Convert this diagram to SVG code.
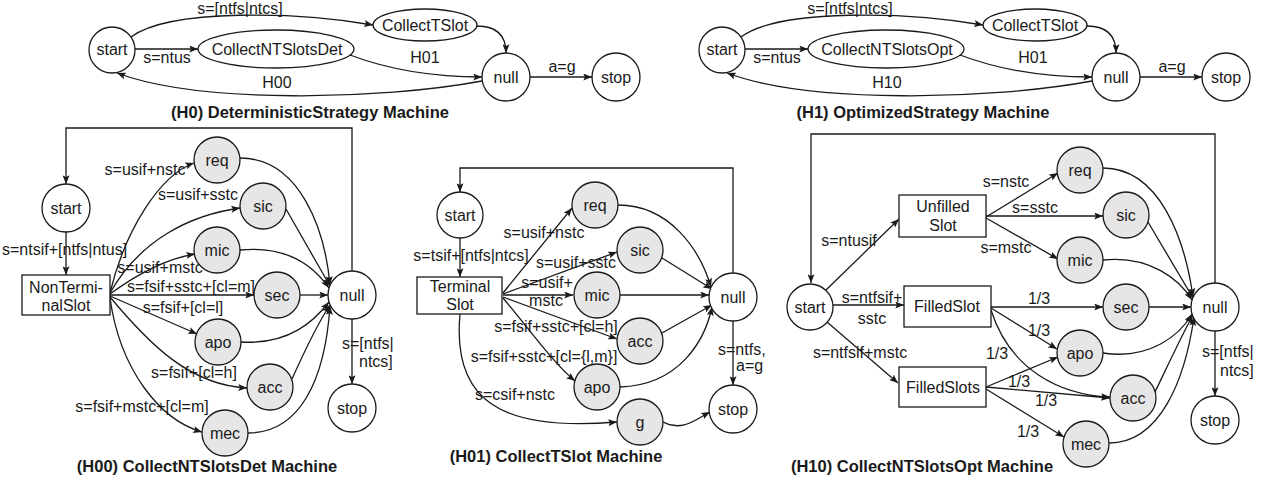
<svg xmlns="http://www.w3.org/2000/svg" width="1266" height="482" viewBox="0 0 1266 482">
<style>
text{font-family:"Liberation Sans",Arial,sans-serif;font-size:16px;fill:#1a1a1a}
.m{text-anchor:middle}
.t{font-weight:bold;font-size:16.5px;text-anchor:middle}
.e{fill:none;stroke:#1a1a1a;stroke-width:1.3;marker-end:url(#ah)}
.n{fill:none;stroke:#1a1a1a;stroke-width:1.3}
.w{fill:#fff;stroke:#1a1a1a;stroke-width:1.3}
.g{fill:#e6e6e6;stroke:#1a1a1a;stroke-width:1.3}
</style>
<defs>
<marker id="ah" viewBox="0 0 10 8" refX="10" refY="4" markerWidth="10" markerHeight="7" markerUnits="userSpaceOnUse" orient="auto"><path d="M0,0 L10,4 L0,8 L2,4 z" fill="#1a1a1a"/></marker>
</defs>
<rect width="1266" height="482" fill="#fff"/>

<!-- H0 -->
<g id="H0">
<g id="connectors-h0">
<path class="e" d="M131,37 C170,8 300,12 373,25"/>
<path class="e" d="M135,49 L198,49"/>
<path class="e" d="M350,55 C395,72 440,77 482,77"/>
<path class="e" d="M477,26 C498,26 506,36 506,53"/>
<path class="e" d="M482,81 C380,100 200,104 117,73"/>
<path class="e" d="M530,77 L592,77"/>
<text class="m" x="240" y="14">s=[ntfs|ntcs]</text>
<text class="m" x="167" y="63">s=ntus</text>
<text class="m" x="425" y="63">H01</text>
<text class="m" x="277" y="88">H00</text>
<text class="m" x="562" y="72">a=g</text>
</g>
<g id="h0-start"><circle class="w" cx="112" cy="50" r="23"/><text class="m" x="112" y="55">start</text></g>
<g id="h0-collectntslotsdet"><ellipse class="w" cx="276" cy="49" rx="78" ry="19"/><text class="m" x="277" y="55">CollectNTSlotsDet</text></g>
<g id="h0-collecttslot"><ellipse class="w" cx="425" cy="25" rx="52" ry="16"/><text class="m" x="425" y="31">CollectTSlot</text></g>
<g id="h0-null"><circle class="w" cx="506" cy="77" r="24"/><text class="m" x="506" y="83">null</text></g>
<g id="h0-stop"><circle class="w" cx="616" cy="77" r="24"/><text class="m" x="616" y="83">stop</text></g>
<text class="t" x="310" y="118">(H0) DeterministicStrategy Machine</text>
</g>

<!-- H1 -->
<g id="H1">
<g id="connectors-h1" transform="translate(610,0)">
<path class="e" d="M131,37 C170,8 300,12 373,25"/>
<path class="e" d="M135,49 L198,49"/>
<path class="e" d="M350,55 C395,72 440,77 482,77"/>
<path class="e" d="M477,26 C498,26 506,36 506,53"/>
<path class="e" d="M482,81 C380,100 200,104 117,73"/>
<path class="e" d="M530,77 L592,77"/>
<text class="m" x="240" y="14">s=[ntfs|ntcs]</text>
<text class="m" x="167" y="63">s=ntus</text>
<text class="m" x="423" y="63">H01</text>
<text class="m" x="277" y="88">H10</text>
<text class="m" x="562" y="72">a=g</text>
</g>
<g id="h1-start"><circle class="w" cx="722" cy="50" r="23"/><text class="m" x="722" y="55">start</text></g>
<g id="h1-collectntslotsopt"><ellipse class="w" cx="886" cy="49" rx="78" ry="19"/><text class="m" x="887" y="55">CollectNTSlotsOpt</text></g>
<g id="h1-collecttslot"><ellipse class="w" cx="1035" cy="25" rx="52" ry="16"/><text class="m" x="1035" y="31">CollectTSlot</text></g>
<g id="h1-null"><circle class="w" cx="1116" cy="77" r="24"/><text class="m" x="1116" y="83">null</text></g>
<g id="h1-stop"><circle class="w" cx="1226" cy="77" r="24"/><text class="m" x="1226" y="83">stop</text></g>
<text class="t" x="923" y="118">(H1) OptimizedStrategy Machine</text>
</g>

<!-- H00 -->
<g id="H00">
<g id="connectors-h00">
<path class="e" d="M352,271 L352,128 L66,128 L66,184"/>
<path class="e" d="M66,232 L66,275"/>
<path class="e" d="M110,293 C125,230 160,175 194,163"/>
<path class="e" d="M110,293 C140,240 190,215 240,208"/>
<path class="e" d="M110,294 C140,272 170,258 195,254"/>
<path class="e" d="M110,295 L254,295"/>
<path class="e" d="M110,296 L197,334"/>
<path class="e" d="M110,297 C150,345 190,385 247,388"/>
<path class="e" d="M110,298 C120,370 160,420 202,432"/>
<path class="e" d="M240,158 C300,158 325,230 330,285"/>
<path class="e" d="M286,209 L330,286"/>
<path class="e" d="M240,250 C290,245 315,268 329,288"/>
<path class="e" d="M300,295 L328,295"/>
<path class="e" d="M241,342 C290,345 315,320 329,302"/>
<path class="e" d="M292,379 C305,350 320,320 330,305"/>
<path class="e" d="M248,433 C300,433 325,380 330,306"/>
<path class="e" d="M352,319 L352,384"/>
<text x="2" y="255">s=ntsif+[ntfs|ntus]</text>
<text class="m" x="145" y="175">s=usif+nstc</text>
<text class="m" x="198" y="200">s=usif+sstc</text>
<text class="m" x="160" y="273">s=usif+mstc</text>
<text class="m" x="191" y="292">s=fsif+sstc+[cl=m]</text>
<text class="m" x="183" y="313">s=fsif+[cl=l]</text>
<text class="m" x="194" y="378">s=fsif+[cl=h]</text>
<text class="m" x="142" y="412">s=fsif+mstc+[cl=m]</text>
<text x="342" y="349">s=[ntfs|</text>
<text x="359" y="367">ntcs]</text>
</g>
<g id="h00-start"><circle class="w" cx="66" cy="208" r="24"/><text class="m" x="66" y="214">start</text></g>
<g id="h00-nonterminalslot"><rect class="w" x="22" y="275" width="88" height="40"/><text class="m" x="66" y="293">NonTermi-</text><text class="m" x="66" y="311">nalSlot</text></g>
<g id="h00-req"><circle class="g" cx="217" cy="160" r="23"/><text class="m" x="217" y="166">req</text></g>
<g id="h00-sic"><circle class="g" cx="263" cy="206" r="23"/><text class="m" x="263" y="212">sic</text></g>
<g id="h00-mic"><circle class="g" cx="217" cy="250" r="23"/><text class="m" x="217" y="256">mic</text></g>
<g id="h00-sec"><circle class="g" cx="277" cy="295" r="23"/><text class="m" x="277" y="301">sec</text></g>
<g id="h00-apo"><circle class="g" cx="218" cy="342" r="23"/><text class="m" x="218" y="348">apo</text></g>
<g id="h00-acc"><circle class="g" cx="270" cy="387" r="23"/><text class="m" x="270" y="393">acc</text></g>
<g id="h00-mec"><circle class="g" cx="225" cy="433" r="23"/><text class="m" x="225" y="439">mec</text></g>
<g id="h00-null"><circle class="w" cx="352" cy="295" r="24"/><text class="m" x="352" y="301">null</text></g>
<g id="h00-stop"><circle class="w" cx="352" cy="408" r="24"/><text class="m" x="352" y="414">stop</text></g>
<text class="t" x="207" y="472">(H00) CollectNTSlotsDet Machine</text>
</g>

<!-- H01 -->
<g id="H01">
<g id="connectors-h01">
<path class="e" d="M733,273 L733,168 L460,168 L460,192"/>
<path class="e" d="M460,238 L460,277"/>
<path class="e" d="M503,293 L572,208"/>
<path class="e" d="M503,294 L617,252"/>
<path class="e" d="M503,295 L573,295"/>
<path class="e" d="M503,297 L617,339"/>
<path class="e" d="M503,298 C530,330 555,365 575,381"/>
<path class="e" d="M460,314 C452,400 500,432 617,422"/>
<path class="e" d="M618,205 C670,205 700,250 711,287"/>
<path class="e" d="M662,258 L712,289"/>
<path class="e" d="M620,295 L709,295"/>
<path class="e" d="M662,333 L712,305"/>
<path class="e" d="M620,387 C680,385 705,340 712,307"/>
<path class="e" d="M663,422 C682,432 695,420 710,412"/>
<path class="e" d="M733,321 L733,385"/>
<text class="m" x="471" y="261">s=tsif+[ntfs|ntcs]</text>
<text class="m" x="544" y="238">s=usif+nstc</text>
<text class="m" x="576" y="268">s=usif+sstc</text>
<text class="m" x="547" y="288">s=usif+</text>
<text class="m" x="546" y="306">mstc</text>
<text class="m" x="556" y="332">s=fsif+sstc+[cl=h]</text>
<text class="m" x="544" y="362">s=fsif+sstc+[cl={l,m}]</text>
<text class="m" x="515" y="400">s=csif+nstc</text>
<text x="718" y="355">s=ntfs,</text>
<text x="736" y="371">a=g</text>
</g>
<g id="h01-start"><circle class="w" cx="460" cy="215" r="23"/><text class="m" x="460" y="221">start</text></g>
<g id="h01-terminalslot"><rect class="w" x="417" y="277" width="85" height="37"/><text class="m" x="460" y="292">Terminal</text><text class="m" x="460" y="310">Slot</text></g>
<g id="h01-req"><circle class="g" cx="595" cy="205" r="23"/><text class="m" x="595" y="211">req</text></g>
<g id="h01-sic"><circle class="g" cx="640" cy="250" r="23"/><text class="m" x="640" y="256">sic</text></g>
<g id="h01-mic"><circle class="g" cx="597" cy="295" r="23"/><text class="m" x="597" y="301">mic</text></g>
<g id="h01-acc"><circle class="g" cx="640" cy="341" r="23"/><text class="m" x="640" y="347">acc</text></g>
<g id="h01-apo"><circle class="g" cx="597" cy="387" r="23"/><text class="m" x="597" y="393">apo</text></g>
<g id="h01-g"><circle class="g" cx="640" cy="422" r="23"/><text class="m" x="640" y="428">g</text></g>
<g id="h01-null"><circle class="w" cx="733" cy="297" r="24"/><text class="m" x="733" y="303">null</text></g>
<g id="h01-stop"><circle class="w" cx="733" cy="409" r="24"/><text class="m" x="733" y="415">stop</text></g>
<text class="t" x="556" y="462">(H01) CollectTSlot Machine</text>
</g>

<!-- H10 -->
<g id="H10">
<g id="connectors-h10">
<path class="e" d="M1215,283 L1215,134 L811,134 L811,283"/>
<path class="e" d="M826,290 L899,219"/>
<path class="e" d="M833,305 L904,305"/>
<path class="e" d="M827,322 L898,383"/>
<path class="e" d="M986,217 L1058,173"/>
<path class="e" d="M986,216 L1103,216"/>
<path class="e" d="M986,218 L1058,259"/>
<path class="e" d="M991,307 L1103,307"/>
<path class="e" d="M991,308 L1057,349"/>
<path class="e" d="M991,310 C1010,370 1060,395 1110,397"/>
<path class="e" d="M986,387 L1058,357"/>
<path class="e" d="M986,387 L1110,398"/>
<path class="e" d="M986,389 L1064,437"/>
<path class="e" d="M1103,168 C1160,168 1185,240 1193,297"/>
<path class="e" d="M1148,222 L1193,298"/>
<path class="e" d="M1103,260 C1150,255 1180,280 1192,300"/>
<path class="e" d="M1149,307 L1191,307"/>
<path class="e" d="M1103,353 C1150,360 1180,335 1192,314"/>
<path class="e" d="M1155,392 C1168,365 1182,335 1193,315"/>
<path class="e" d="M1109,443 C1160,443 1185,380 1194,317"/>
<path class="e" d="M1215,331 L1215,396"/>
<text class="m" x="849" y="246">s=ntusif</text>
<text class="m" x="872" y="303">s=ntfsif+</text>
<text class="m" x="872" y="324">sstc</text>
<text class="m" x="860" y="358">s=ntfsif+mstc</text>
<text class="m" x="1006" y="187">s=nstc</text>
<text class="m" x="1035" y="213">s=sstc</text>
<text class="m" x="1006" y="253">s=mstc</text>
<text class="m" x="1039" y="304">1/3</text>
<text class="m" x="1039" y="336">1/3</text>
<text class="m" x="997" y="359">1/3</text>
<text class="m" x="1019" y="387">1/3</text>
<text class="m" x="1046" y="406">1/3</text>
<text class="m" x="1028" y="437">1/3</text>
<text x="1202" y="357">s=[ntfs|</text>
<text x="1220" y="376">ntcs]</text>
</g>
<g id="h10-start"><circle class="w" cx="810" cy="307" r="23"/><text class="m" x="810" y="313">start</text></g>
<g id="h10-unfilledslot"><rect class="w" x="899" y="195" width="87" height="42"/><text class="m" x="943" y="212">Unfilled</text><text class="m" x="943" y="231">Slot</text></g>
<g id="h10-filledslot"><rect class="w" x="904" y="286" width="87" height="41"/><text class="m" x="947" y="312">FilledSlot</text></g>
<g id="h10-filledslots"><rect class="w" x="899" y="367" width="87" height="40"/><text class="m" x="943" y="393">FilledSlots</text></g>
<g id="h10-req"><circle class="g" cx="1080" cy="170" r="23"/><text class="m" x="1080" y="176">req</text></g>
<g id="h10-sic"><circle class="g" cx="1126" cy="215" r="23"/><text class="m" x="1126" y="221">sic</text></g>
<g id="h10-mic"><circle class="g" cx="1080" cy="260" r="23"/><text class="m" x="1080" y="266">mic</text></g>
<g id="h10-sec"><circle class="g" cx="1126" cy="307" r="23"/><text class="m" x="1126" y="313">sec</text></g>
<g id="h10-apo"><circle class="g" cx="1080" cy="353" r="23"/><text class="m" x="1080" y="359">apo</text></g>
<g id="h10-acc"><circle class="g" cx="1133" cy="398" r="23"/><text class="m" x="1133" y="404">acc</text></g>
<g id="h10-mec"><circle class="g" cx="1086" cy="444" r="23"/><text class="m" x="1086" y="450">mec</text></g>
<g id="h10-null"><circle class="w" cx="1215" cy="307" r="24"/><text class="m" x="1215" y="313">null</text></g>
<g id="h10-stop"><circle class="w" cx="1215" cy="420" r="24"/><text class="m" x="1215" y="426">stop</text></g>
<text class="t" x="922" y="472">(H10) CollectNTSlotsOpt Machine</text>
</g>
</svg>
